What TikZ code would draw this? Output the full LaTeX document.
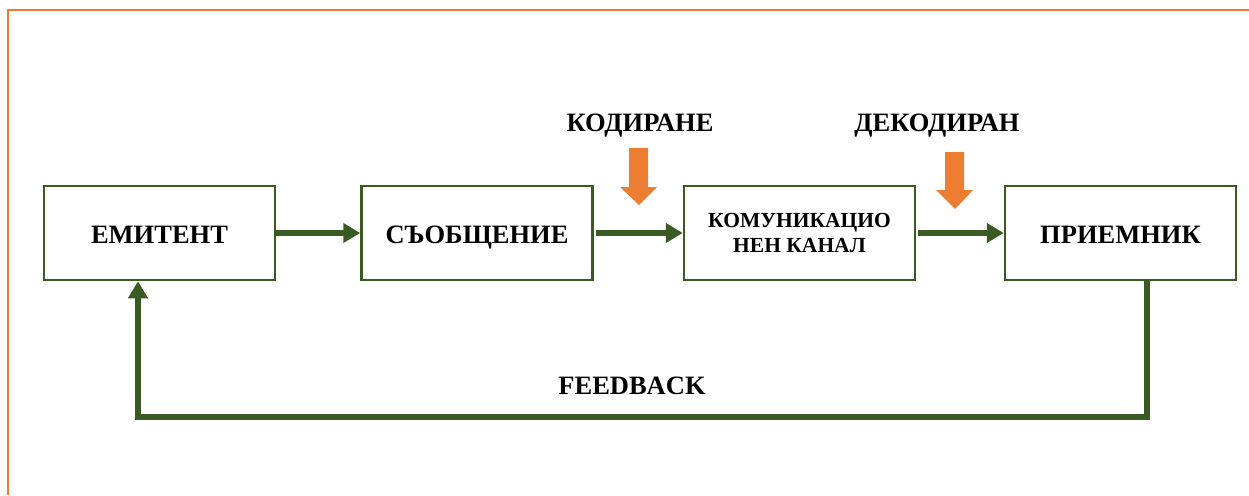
\documentclass[tikz,border=0pt]{standalone}
\usepackage{fontspec}
\setmainfont{Liberation Serif}
\usetikzlibrary{arrows.meta}
\definecolor{dgreen}{HTML}{3A5A24}
\definecolor{orng}{HTML}{ED7D31}
\tikzset{
  box/.style={draw=dgreen, line width=2.5pt, minimum width=231pt, minimum height=94pt, inner sep=0pt, align=center, font=\fontsize{26.5}{30}\selectfont\bfseries},
  onebox/.style={box, text height=21pt, text depth=1pt},
  flow/.style={draw=dgreen, line width=6.5pt, -{Triangle[length=17pt,width=19pt]}},
  lbl/.style={font=\fontsize{26.5}{30}\selectfont\bfseries, inner sep=0pt},
  orarrow/.style={fill=orng, draw=none}
}
\begin{document}
\begin{tikzpicture}[x=1pt,y=-1pt]
\useasboundingbox (0,0) rectangle (1249,495);
\draw[orng, line width=2.6pt] (8,495) -- (8,10) -- (1249,10);

\node[onebox] (em) at (159.5,233) {ЕМИТЕНТ};
\node[onebox] (sa) at (477,233) {СЪОБЩЕНИЕ};
\node[box, font=\fontsize{21.5}{25}\selectfont\bfseries] (ko) at (799.5,233) {КОМУНИКАЦИО\\НЕН КАНАЛ};
\node[onebox] (pr) at (1120.5,233) {ПРИЕМНИК};

\draw[flow] (em.east) -- (sa.west);
\draw[flow] (sa.east) ++(2,0) -- (ko.west);
\draw[flow] (ko.east) ++(2,0) -- (pr.west);

\coordinate (fbR) at (1147,417);
\coordinate (fbL) at (138,417);
\draw[draw=dgreen, line width=6pt, -{Triangle[length=17pt,width=19pt]}]
  (pr.south -| fbR) -- (fbR) -- (fbL) -- (fbL |- em.south);

\node[lbl] (kod) at (640,126) {КОДИРАНЕ};
\node[lbl] (dek) at (937,126) {ДЕКОДИРАН};
\node[lbl] (fb) at (632,386) {FEEDBACK};

\fill[orarrow] (629,148) -- (648,148) -- (648,187) -- (657,187) -- (639,205) -- (620,187) -- (629,187) -- cycle;
\fill[orarrow] (945,152) -- (964,152) -- (964,190) -- (973,190) -- (955,209) -- (936,190) -- (945,190) -- cycle;
\end{tikzpicture}
\end{document}
